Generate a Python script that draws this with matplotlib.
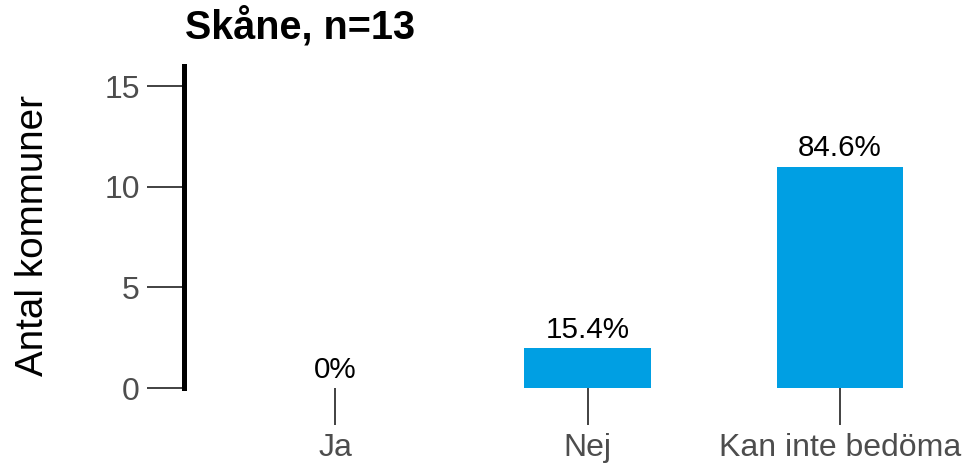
import matplotlib
matplotlib.use("Agg")
import matplotlib.pyplot as plt

categories = ["Ja", "Nej", "Kan inte bedöma"]
counts = [0, 2, 11]
pct_labels = ["0%", "15.4%", "84.6%"]
title = "Skåne, n=13"
ylabel = "Antal kommuner"
yticks = [0, 5, 10, 15]

plt.rcParams['font.family'] = ['Liberation Sans', 'DejaVu Sans']

fig = plt.figure(figsize=(9.68, 4.65), dpi=100)
ax = fig.add_axes([183.5 / 968, 1 - 388 / 465, 808 / 968, 322 / 465])

x = list(range(len(categories)))
ax.bar(x, counts, width=0.5, color="#009FE3")
for xi, c, lab in zip(x, counts, pct_labels):
    ax.annotate(lab, (xi, c), xytext=(0, 3), textcoords="offset points",
                ha="center", va="bottom", fontsize=21.3, color="black")

ax.set_xlim(-0.6, 2.6)
ax.set_ylim(0, 16)
ax.set_xticks(x)
ax.set_xticklabels(categories)
ax.set_yticks(yticks)

for s in ["top", "right", "bottom"]:
    ax.spines[s].set_visible(False)
ax.spines["left"].set_linewidth(3.6)
ax.spines["left"].set_color("black")

ax.tick_params(axis="both", length=26.5, width=1.3, color="#333333",
               labelcolor="#4D4D4D", labelsize=23)
ax.tick_params(axis="y", pad=5)
ax.tick_params(axis="x", pad=6)

fig.text(185 / 968, 1 - 38 / 465, title, fontsize=28.5, fontweight="bold",
         ha="left", va="baseline")
fig.text(33 / 968, 1 - 235 / 465, ylabel, fontsize=27.8, rotation=90,
         ha="center", va="center")

fig.savefig("out.png", dpi=100)
